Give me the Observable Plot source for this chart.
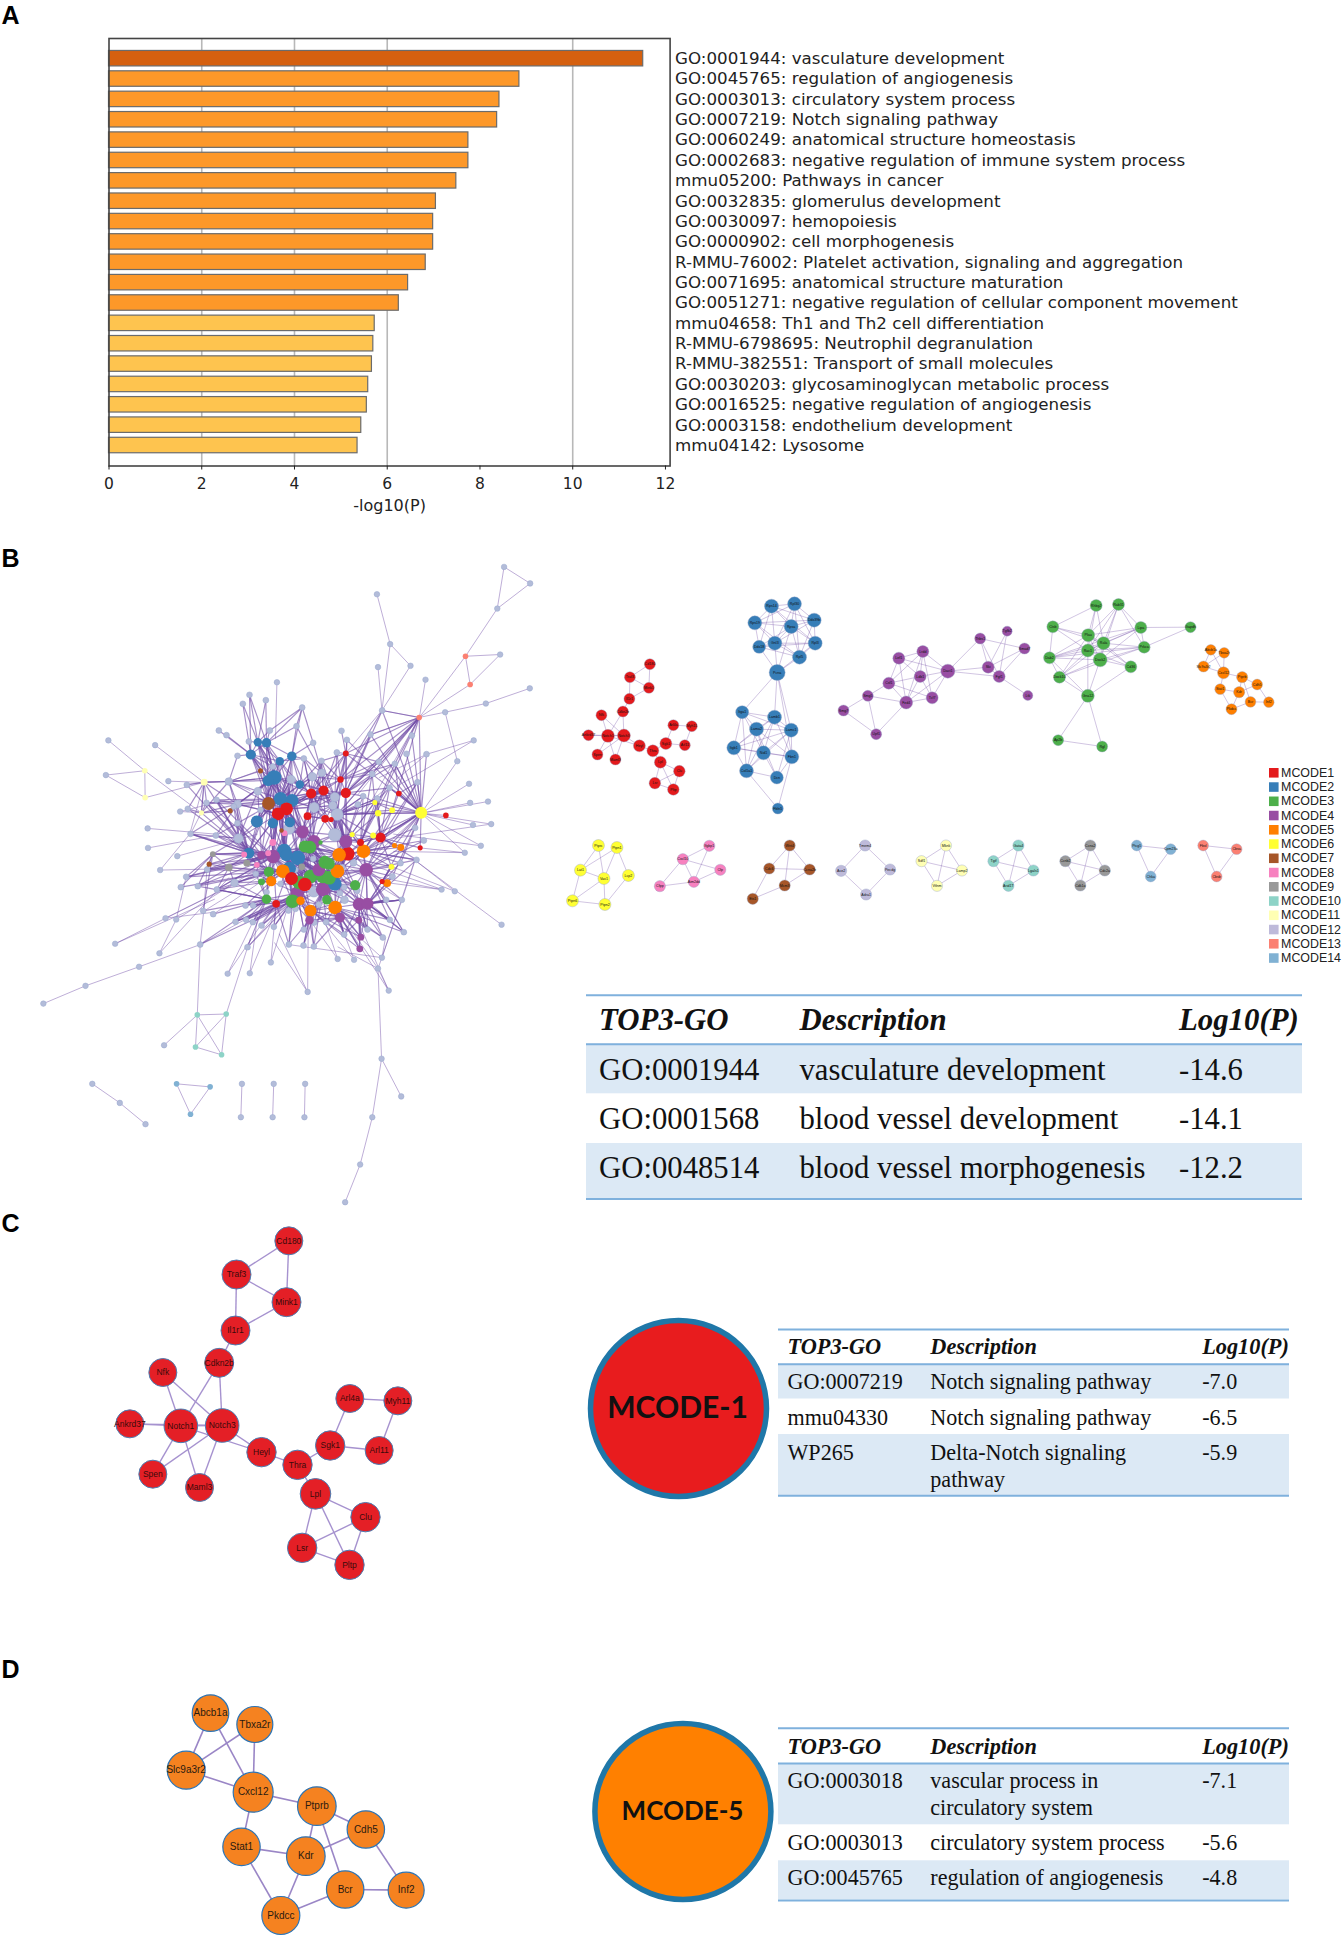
<!DOCTYPE html>
<html>
<head>
<meta charset="utf-8">
<script src="https://cdn.jsdelivr.net/npm/d3@7"></script>
<script src="https://cdn.jsdelivr.net/npm/@observablehq/plot@0.6"></script>
<style>
html,body{margin:0;padding:0;background:#fff}
#page{position:relative;width:1343px;height:1937px;overflow:hidden}
#page svg{position:absolute;left:0;top:0;background:transparent}
</style>
</head>
<body>
<div id="page"></div>
<script>
/* ---------- Panel A ---------- */
const terms = ["GO:0001944: vasculature development","GO:0045765: regulation of angiogenesis","GO:0003013: circulatory system process","GO:0007219: Notch signaling pathway","GO:0060249: anatomical structure homeostasis","GO:0002683: negative regulation of immune system process","mmu05200: Pathways in cancer","GO:0032835: glomerulus development","GO:0030097: hemopoiesis","GO:0000902: cell morphogenesis","R-MMU-76002: Platelet activation, signaling and aggregation","GO:0071695: anatomical structure maturation","GO:0051271: negative regulation of cellular component movement","mmu04658: Th1 and Th2 cell differentiation","R-MMU-6798695: Neutrophil degranulation","R-MMU-382551: Transport of small molecules","GO:0030203: glycosaminoglycan metabolic process","GO:0016525: negative regulation of angiogenesis","GO:0003158: endothelium development","mmu04142: Lysosome"];
const logP = [11.52,8.85,8.42,8.37,7.75,7.75,7.49,7.05,6.99,6.99,6.83,6.45,6.25,5.73,5.70,5.67,5.59,5.56,5.44,5.36];
const barTier = [0,1,1,1,1,1,1,1,1,1,1,1,1,2,2,2,2,2,2,2];
const tierColors = ["#d5600f","#fd9829","#fec44f"];
const xTicks = [0,2,4,6,8,10,12];
const gridTicks = [2,4,6,10];

/* ---------- Panel B: modules ---------- */
const modules = [1,2,3,4,5,6,7,8,9,10,11,12,13,14];
const moduleColors = ["#e41a1c","#377eb8","#4daf4a","#984ea3","#ff7f00","#ffff33","#a65628","#f781bf","#999999","#8dd3c7","#ffffb3","#bebada","#fb8072","#80b1d3"];

/* whole-network nodes: [x, y, module, size] */
const coreTop = [
[232,155,2,3.3],[258,157,2,3.7],[211,192,2,4],[334,197,2,3.7],[298,212,2,3.3],[281,261,2,5.7],[263,270,2,4.3],[358,282,2,3.3],[300,325,2,5.3],[335,330,2,5],
[264,339,7,5],[240,241,7,2],[149,361,7,2],[392,309,1,4],[429,300,1,4],[496,307,1,4],[480,267,1,2.5],[496,189,1,2.3],[318,355,1,5],[293,370,1,5],
[381,377,1,3],[434,385,1,3],[452,387,1,2],[655,309,1,2.2],[583,336,6,2],[635,359,6,2.3],[593,368,6,2.5],[722,367,6,4.7],[71,275,11,2.7],[63,367,11,2],
[716,81,13,2.2],[145,273,12,3],[207,13,12,2.3],[187,40,12,2.3],[256,29,12,2.3],[365,51,12,2.3],[115,120,12,2.3],[138,134,12,2.3],[348,107,12,2.3],[268,120,12,2.3],
[205,153,12,2.3],[171,196,12,2.3],[398,157,12,2.3],[370,204,12,2.3],[469,186,12,2.3],[499,148,12,2.3],[483,121,12,2.3],[570,132,12,2.3],[605,60,12,2.3],[694,135,12,2.3],
[678,190,12,2.3],[738,191,12,2.3],[595,214,12,2.3],[643,220,12,2.3],[575,251,12,2.3],[711,275,12,2.3],[627,292,12,2.3],[423,211,12,2.3],[424,247,12,3],[396,259,12,3.3],
[332,267,12,3.3],[463,320,12,3.7],[401,351,12,4],[232,302,12,3],[457,345,12,3.3],[470,372,12,4.7],[548,317,12,2.3],[590,324,12,2.3],[532,342,12,2.3],[277,228,12,2.3],
[19,283,12,2.3],[22,355,12,2.3],[78,337,12,2.3],[108,328,12,2.3],[171,341,12,3],[160,348,12,2.3],[240,358,12,2.3]];
const coreBottom = [
[311,92,2,5.7],[318,104,2,4.7],[352,112,2,5.7],[326,144,2,5.3],[205,98,2,4.3],[463,190,2,5.3],[229,3,2,4.7],[277,8,2,4],[328,5,2,4],[366,34,4,5],
[400,64,4,5.3],[496,63,4,5],[278,108,4,5.3],[243,104,4,3.3],[415,148,4,5],[557,148,4,5.3],[428,206,4,5.7],[350,218,4,5.3],[536,251,4,5],[561,250,4,4.7],
[387,299,4,3.3],[478,291,4,4],[535,299,4,2.7],[541,350,4,2.7],[538,385,4,2.7],[373,78,3,4.7],[388,80,3,5],[420,66,3,1.7],[433,125,3,5],[445,130,3,4.7],
[265,154,3,4],[390,168,3,5.3],[427,168,3,5.3],[446,172,3,5.3],[356,186,3,5.3],[524,194,3,4],[243,184,3,2.7],[258,236,3,3.7],[336,242,3,5.3],[439,238,3,3.7],
[502,100,1,5.3],[333,174,1,5],[373,192,1,5.3],[600,51,1,4],[540,66,1,2.7],[719,82,1,2],[605,183,1,2],[287,250,1,3],[476,103,5,5.3],[549,92,5,5.3],
[471,152,5,5.3],[272,182,5,4],[307,152,5,5.3],[620,188,5,3],[360,241,5,3.3],[390,271,5,4.7],[464,261,5,5.3],[642,75,5,2],[661,81,5,2.7],[515,42,6,2],
[578,45,6,2.3],[633,139,6,2.3],[277,66,8,2.7],[312,38,8,2.3],[191,102,8,2.3],[263,98,8,2.3],[229,133,8,2.3],[303,30,7,1.7],[97,101,9,2.3],[145,141,9,3],
[199,128,9,2.7],[364,139,9,2.7],[86,131,7,2],[463,43,12,5],[326,25,12,4.3],[174,54,12,3.7],[106,45,12,2.3],[30,40,12,2.3],[171,8,12,2.3],[519,127,12,2.7],
[660,128,12,2.3],[636,168,12,2.3],[704,22,12,2.3],[730,60,12,2.3],[708,118,12,2.3],[400,213,12,4.3],[478,218,12,2.3],[492,238,12,3],[162,187,12,3],[226,160,12,2.3],
[80,147,12,2.3],[17,169,12,2.3],[52,197,12,2.3],[109,207,12,2.3],[1,200,12,2.3],[68,271,12,2.3],[98,281,12,2.3],[165,304,12,2.3],[197,298,12,2.3],[217,305,12,2.3],
[243,315,12,2.3],[280,319,12,2.3],[370,327,12,2.3],[401,306,12,2.3],[437,305,12,2.3],[491,342,12,2.3],[369,375,12,2.3],[400,378,12,2.3],[59,372,12,2.3],[201,380,12,2.3],
[325,372,12,2.3],[607,351,12,2.3],[670,335,12,2.3],[628,298,12,2.3],[664,238,12,2.3],[617,238,12,2.3],[561,327,12,2.3],[459,250,12,2.3],[415,252,12,2.3],[530,210,12,2.3],
[258,215,12,2.3],[195,255,12,2.3],[218,255,12,2.3],[324,270,12,2.3],[345,265,12,2.3],[491,200,12,2.3],[398,115,12,2.3],[345,148,12,2.3],[485,140,12,2.3],[300,190,12,2.3]];
const outerNodes = [
[1410,84,12],[1483,122,12],[1391,180,12],[1302,290,13],[1399,286,12],[1315,355,13],[1054,147,12],[1091,262,12],[1148,312,12],[1057,315,12],[1190,344,12],[1482,364,12],[1359,399,12],[1245,419,12],[1279,532,12],[1325,484,12],[1312,584,12],[1315,628,12],[1365,625,12],[1374,677,12],[1323,679,12],[1345,727,12],[1300,743,12],[1247,657,1],[1235,828,12],[1272,832,12],[1403,909,12],[1068,985,12],[1057,1010,12],[1087,1061,12],[1067,1218,12],[1122,1305,12],[1041,1353,12],[1007,1462,12],[965,1549,12],[860,1064,12],[990,990,12],[944,988,12],[757,996,12],[698,1021,12],[636,1022,12],[321,953,12],[445,975,12],[492,897,12],[462,894,12],[388,1006,12],[238,1050,12],[120,1091,12],[551,1117,10],[632,1115,10],[546,1191,10],[619,1209,10],[458,1187,12],[257,1276,12],[334,1320,12],[406,1369,12],[493,1276,14],[587,1283,14],[532,1346,14],[676,1276,12],[673,1353,12],[765,1276,12],[762,1353,12],[853,1276,12],[851,1353,12],[302,484,12],[433,495,12],[295,564,12],[404,554,11],[405,616,11],[470,578,12],[503,648,12],[412,687,12],[413,732,12],[495,751,12],[447,783,12],[774,350,12]];

/* links of the dense core: first id is a hub, the rest its neighbours */
const coreLinks = [
"t5 t0 t1 t2 t3 t4 t6 t7 t8 t9 t10 t11 t60 t63 b6 b7 b8","t8 t0 t1 t2 t3 t4 t9 t10 t18 t19 t69 t60 t7 b0 b1 b6","t9 t0 t1 t2 t3 t4 t10 t18 t19 t7 t13 b2 b9","t10 t0 t1 t2 t4 t11 t19 t63 t31 b6 b12",
"t18 t3 t7 t13 t14 t15 t59 t60 t62 b0 b9 b10","t19 t2 t3 t63 t74 b4 b12 b30","t13 t14 t15 t16 t17 t20 t58 t61 t62 t64 b9 b10 b11","t14 t15 t16 t17 t21 t58 t59 t61 t64 t65 b11 b40","t15 t16 t17 t45 t52 t54 t61 t66 b11 b40 b48",
"t62 t3 t43 t57 t58 t61 t64 t65 t21 b10 b73","t65 t16 t17 t24 t26 t66 t67 b11 b73 b40 b49","t27 t24 t25 t26 t23 t30 t49 t50 t51 t52 t53 t55 t56 t67 t54 b43 b60",
"b0 b1 b2 b3 b4 b6 b7 b8 b9 b12 b13 b30 b41 b42 b34 b71 b25 b26 t18 t19 t8 b69 b70 b68 b90 b91","b2 b3 b9 b10 b25 b26 b28 b29 b31 b32 b34 b41 b42 b126 b14 b127","b3 b12 b30 b31 b34 b38 b41 b42 b47 b51 b52 b54 b129 b36 b88",
"b12 b4 b13 b30 b36 b41 b47 b51 b62 b63 b65 b66 b70 b74 b92 b93","b10 b11 b14 b25 b26 b28 b29 b32 b40 b48 b50 b73 b74","b11 b28 b29 b33 b40 b43 b44 b48 b49 b59 b60 b50","b14 b28 b29 b31 b32 b33 b16 b17 b34 b42 b5 b50 b85 b35",
"b16 b5 b17 b20 b21 b31 b32 b33 b34 b38 b39 b42 b54 b55 b56 b85 b86","b17 b37 b38 b41 b42 b47 b51 b54 b55 b85 b20 b102 b118 b123","b31 b32 b33 b34 b41 b42 b5 b28 b29 b54 b85","b33 b5 b28 b29 b40 b48 b49 b50 b35 b15 b86 b125",
"b5 b35 b15 b18 b19 b50 b56 b40 b49 b87 b119 b125 b39","b15 b18 b19 b35 b49 b43 b44 b53 b61 b58 b81 b115 b116 b119","b18 b19 b22 b23 b24 b56 b35 b87 b111 b114 b116","b19 b22 b23 b111 b112 b113 b114 b115 b61 b53",
"b56 b21 b22 b55 b39 b35 b86 b87 b105 b116 b103 b104","b55 b20 b21 b38 b39 b54 b102 b103 b117 b118 b106 b107","b38 b37 b47 b54 b20 b100 b101 b121 b122 b123 b124 b97 b98","b37 b47 b36 b30 b88 b93 b97 b98 b99 b121 b122 b120",
"b30 b36 b41 b51 b52 b66 b70 b69 b89 b64 b13 b120","b4 b13 b64 b65 b66 b69 b70 b68 b72 b75 b76 b77 b78 b90 t74 t75","b13 b65 b66 b62 b89 b70 t63 b78 b75","b9 b25 b26 b27 b63 b67 b74 t76 t60 b73","b73 b27 b44 b59 b11 b79 t61 t64 t65",
"b40 b49 b44 b59 b60 b48 b50 b79 b128","b49 b43 b44 b60 b61 b57 b58 b79 b80 b84","b48 b50 b28 b29 b126 b128","b43 b60 b57 b58 b44 b45 b84 t55 t56 t67","b20 b21 b102 b103 b106 b107 b110","b21 b103 b104 b105 b107","b22 b23 b24 b105 b111 b116",
"b47 b100 b101 b110 b97 b98 b99","b54 b123 b124 b20 b118","b42 b34 b41 b54 b85 b129 b127","b51 b36 b88 b89 b93 b120 b121","b75 b76 b77 b78 b68 t72 t73 t74 t75 t63","b69 b68 b72 b90 b91 b92 b93 b88","b68 b90 b91 b92 b94 b95","b46 b53 b58 b61 b81 b80",
"t74 t31 t72 t73 t28 t29 t12 b76 b77","t31 t28 t5 t6 t63 t41 t29 t11","t2 t0 t1 t40 t41 t4 t33 t32 t37 t36 t69 t11","t0 t32 t33 t34 t1 t4 t39 t40 t69","t1 t32 t34 t35 t38 t39 t3 t4 t5","t3 t35 t38 t42 t43 t7 t69","t4 t69 t7 t43 t60","t7 t43 t59 t57 t60 t13",
"t16 t17 t57 t44 t58 t59 t61","t17 t44 t45 t46 t52 t54 t30 t57","t30 t47 t48 t53 t52 t54 t25","t24 t25 t66 t67 t54 t56","t23 t56 t53 t25 t55 t27","t58 t57 t43 t42 t38","t20 t62 t64 t22 t21 b9 b10","t35 t38 t42 t39","t28 t70 t71 t72 t29 t31","t29 t71 t72 t12",
"b0 b14 b16 b17 b28 b31 b32 b33 b5 b85 b38 b55 b50 b48","b1 b9 b10 b12 b14 b16 b17 b25 b26 b31 b32 b34 b38 b41 b42 b54","b41 b14 b16 b17 b25 b26 b28 b31 b32 b33 b38 b54 b85 b129 b71 b127","b42 b14 b16 b25 b26 b28 b29 b31 b32 b33 b5 b38 b55 b56","b34 b9 b10 b25 b26 b28 b29 b32 b33 b38 b55 b85",
"b25 b26 b28 b29 b31 b32 b33 b40 b48 b14 b50 b5","b26 b28 b29 b31 b32 b33 b40 b48 b50 b16","b28 b29 b31 b32 b33 b40 b48 b50 b5 b15 b49","b32 b33 b40 b48 b50 b5 b15 b18 b56 b39","b50 b5 b35 b15 b49 b40 b56 b39 b86 b18","b48 b40 b49 b15 b35 b61 b5 b18","b12 b31 b34 b38 b42 b14 b28",
"b52 b12 b30 b51 b66 b70 b69 b71 b127 b3 b41 b36","t18 b0 b1 b2 b12 b25 b26 b9 b71 b74 b63 t60 t64","t19 b0 b1 b12 b13 b4 b65 b62 b63 t76 t74 b75","t8 t13 t14 t59 t60 t62 t63 b9 b0 b62","t9 t14 t15 t59 t61 t62 b9 b10 b25","t5 t13 t14 t18 t19 t31 t74 t75 b4 b6 b12","t6 t0 t1 t2 t4 t8 t9 t10 t19 t63 t74","t10 t8 t9 t18 t19 b4 b6 b7 b8 b13 b12 t74 t75 t76",
"t13 t15 t18 t19 t57 t43 t59 t60 b9 b40 b26","t14 t18 t43 t44 t57 t59 t60 t62 b9 b26 b25","t61 t16 t17 t44 t57 t58 t64 t65 b11 b40 b73","t64 t65 t58 b73 b11 b10 b9 b48 b40","t65 t27 t54 t24 t25 t26 t66 t67 t68 b59 b60 b44","b11 t66 t67 t68 t26 t24 b79 b128 b15","b43 t26 t24 t25 t27 t67 b59 b44 b61","b49 t27 b60 b59 b83 b84 b82 t25","b15 t27 t55 b84 b83 b112 b113 b114",
"b19 b84 b112 b114 b115 b113 b61 b81","b18 b113 b115 b114 b116 b105 b22","b16 b103 b104 b105 b117 b86 b87 b118 b102 b107 b106 b23 b24","b17 b110 b101 b100 b124 b123 b97 b98 b99 b102 b103","b38 b99 b109 b110 b108","b37 b108 b95 b96 b92 b93 b89 b109","b30 b90 b91 b92 b93 b94 b88 b75","b12 b68 b72 b76 b77 b90 b93 t72 t73","b4 t31 t28 t29 t70 t71 t72 t73 t76 b77","t8 t72 t73 t74 b76 b75","b56 b111 b112 b113 b105 b23 b24","b55 b22 b23 b24 b105","t27 b43 b57 b58 b45 b80 b81 t53 t48 t47 t45","t16 t30 t52 t53 t54 t47 t48","t15 t30 t47 t48 t52 t53 t56","b44 t30 t53 t54 t56 t66 t67"];

/* outer links of the whole network: [x1, y1, x2, y2] */
const outerLinks = [
[1410,84,1483,122],[1410,84,1391,180],[1483,122,1391,180],[1391,180,1302,290],[1302,290,1173,431],[1302,290,1399,286],[1302,290,1315,355],[1399,286,1315,355],[1315,355,1173,431],
[1054,147,1091,262],[1091,262,1148,312],[1091,262,1068,415],[1057,315,1068,415],[1148,312,1068,415],[1068,415,1173,431],[1068,415,960,520],[1190,344,1173,431],[1173,431,1037,471],[1173,431,1245,419],[1245,419,1359,399],[1359,399,1482,364],[1245,419,1279,532],[1279,532,1178,652],[1173,431,980,590],[1173,431,1000,610],[1173,431,1020,650],[1173,431,1060,535],[1325,484,1193,516],[1193,516,1060,570],
[1312,584,1178,652],[1315,628,1178,652],[1365,625,1178,652],[1374,677,1178,652],[1323,679,1178,652],[1345,727,1178,652],[1300,743,1178,652],[1247,657,1178,652],[1300,743,1175,732],[1178,652,1116,607],[1178,652,1150,660],[1178,652,1060,740],[1178,652,1020,740],
[1235,828,1080,812],[1272,832,1160,760],[1403,909,1160,760],[1124,852,1161,760],[1129,926,1020,780],[1124,852,1068,985],[1068,985,1057,1010],[1057,1010,1087,1061],[1057,1010,1067,1218],[1067,1218,1122,1305],[1067,1218,1041,1353],[1041,1353,1007,1462],[1007,1462,965,1549],[1087,1061,960,900],[1057,1010,944,960],[1057,1010,990,930],[1068,985,808,955],[1068,985,1078,939],[1068,985,1160,760],
[860,1064,767,950],[860,1064,862,880],[990,990,940,880],[944,988,900,880],[757,996,770,880],[698,1021,720,890],[636,1022,720,880],[559,955,551,1117],[569,878,559,955],[569,878,578,783],[632,1115,700,940],[551,1117,632,1115],[551,1117,546,1191],[551,1117,619,1209],[546,1191,632,1115],[632,1115,619,1209],[546,1191,619,1209],[551,1117,458,1187],
[321,953,600,850],[445,975,492,897],[492,897,520,798],[492,897,700,790],[462,894,600,880],[120,1091,238,1050],[238,1050,388,1006],[388,1006,559,955],[559,955,700,890],
[257,1276,334,1320],[334,1320,406,1369],[493,1276,587,1283],[493,1276,532,1346],[587,1283,532,1346],[676,1276,673,1353],[765,1276,762,1353],[853,1276,851,1353],
[302,484,404,554],[404,554,295,564],[404,554,405,616],[295,564,405,616],[433,495,570,581],[404,554,562,651],[405,616,570,581],[570,581,562,651],[570,581,640,579],[570,581,470,578],[570,581,521,586],[640,579,720,555],[640,579,700,600],[412,687,600,700],[413,732,605,703],[495,751,720,700],[447,783,530,700],[447,783,640,780],[570,581,530,700],[562,651,532,700],[503,648,640,620],[503,648,562,651],[774,350,770,480],[1237,828,1000,760],
[321,953,640,820],[445,975,640,800],[462,894,720,790],[569,878,760,780],[596,885,800,770],[692,961,830,830],[636,1022,770,860],[698,1021,770,880],[757,996,800,880],[860,1064,780,930],[990,990,880,880],[944,988,850,880],[1068,985,900,860],[1087,1061,990,880],[1129,926,950,800],[1124,852,980,780],[1272,832,1080,770],[1235,828,1000,790],[1345,727,1100,700],[1300,743,1100,740],[1374,677,1100,710],[1193,516,1000,650],[1325,484,1110,590],[1173,431,960,640],[1037,471,960,600]];

/* module sub-networks: [name, x, y, size] and links as index pairs */
const redNodes = [["Cd180",179,251,5.5],["Traf3",139,290,5.5],["Mink1",177,322,5.5],["Il1r1",138,355,5.5],["Cdkn2b",125,393,5.5],["Nfk",82,404,5.5],["Ankrd37",56,464,5.5],["Notch1",95,466,6.5],["Notch3",127,465,6.5],["Spen",74,522,5.5],["Maml3",110,537,5.5],["Heyl",158,496,6],["Thra",185,511,6],["Sgk1",211,489,6],["Arl4a",226,434,5.5],["Myh11",263,437,5.5],["Arl11",249,494,5.5],["Lpl",200,545,6],["Clu",238,572,5.8],["Lsr",189,608,5.8],["Pltp",226,627,5.8]];
const redLinks = "0-1 0-2 1-2 1-3 2-3 3-4 4-7 4-8 5-7 5-8 6-7 6-8 7-8 7-9 8-9 7-10 8-10 7-11 8-11 11-12 12-13 12-17 13-14 14-15 15-16 13-16 17-18 17-19 17-20 18-19 18-20 19-20";
const blueNodes = [["Rps14",153,47,7],["Rpl30",222,40,7],["Rps19",103,97,7],["Ddx39b",281,89,7],["Rpsa",212,108,7],["Ddx18",116,169,6.5],["Gnl3",163,158,7],["Rpl3",284,158,7],["Rpl5",237,200,7],["Pcna",170,246,8],["Itga1",65,365,6.5],["Lamb1",162,380,7],["Lama2",108,416,7],["Lamc1",212,419,7],["Itgb1",40,472,7],["Nid1",129,487,7],["Fbn1",214,499,7],["Col1a1",78,541,7],["Dcn",169,561,6.5],["Fbln5",172,654,5.5]];
const blueLinks = "0-1 0-2 0-3 0-4 0-5 0-6 0-7 1-2 1-3 1-4 1-6 1-7 1-8 2-3 2-4 2-5 2-6 2-8 3-4 3-6 3-7 3-8 4-5 4-6 4-7 4-8 5-6 5-7 5-8 5-9 6-7 6-8 6-9 7-8 7-9 8-9 4-9 9-10 9-11 9-13 9-16 10-11 10-12 10-13 10-14 10-15 10-17 11-12 11-13 11-14 11-15 11-16 11-17 12-13 12-14 12-15 12-16 12-17 12-18 13-14 13-15 13-16 13-17 13-18 14-15 14-16 14-17 15-16 15-17 15-18 16-18 16-19 17-18 17-19";
const purpleNodes = [["Lrdd",277,183,6],["Lef1",205,203,6],["Ldb1",269,258,6],["Dact1",352,242,7],["Csf1",175,278,6],["Tcf7",305,322,6],["Fzd4",227,336,6.5],["Smg5",112,316,5.5],["Smg7",39,360,5.5],["Upf1",137,431,5.5],["Thbs1",449,144,5.5],["Tgfb2",530,122,5],["Smad7",582,174,5.5],["Ski",473,230,6],["Fgf1",506,258,6],["Ltk",592,315,5]];
const purpleLinks = "0-1 0-2 0-3 0-4 0-5 0-6 1-2 1-3 1-4 1-6 2-3 2-4 2-5 2-6 3-5 3-6 4-5 4-6 4-7 5-6 6-7 7-8 7-9 8-9 6-9 3-10 3-13 3-14 10-13 10-14 10-12 11-13 11-14 12-13 12-14 13-14 14-15";
const greenNodes = [["Rhbg2",197,45,6],["Rab31",264,42,6],["Ctsb",67,109,6],["Lipa",331,111,6],["Gapdh",480,110,5.5],["Plau",173,134,6.5],["Rala",219,158,6.5],["Prkca",341,170,6],["Rac1",172,180,6.5],["Dab2",57,202,6],["Dock2",209,208,7],["Cd36",301,229,6],["Dock10",87,260,6],["Gna12",172,316,6.5],["Ap2b",83,449,5.5],["Rgl",215,468,5.5]];
const greenLinks = "0-2 0-5 0-6 0-8 1-5 1-6 1-8 1-3 1-7 1-10 2-5 2-6 2-8 2-9 3-4 3-5 3-6 3-8 3-9 3-10 3-7 4-7 5-6 5-8 5-9 5-10 5-12 5-11 6-8 6-9 6-10 6-12 6-7 6-11 7-8 7-10 7-9 7-12 8-10 8-9 8-12 8-13 9-10 9-12 9-13 10-12 10-11 10-13 11-13 12-13 13-14 13-15 14-15 8-11";
const orangeNodes = [["Abcb1a",541,178,5.3],["Tbxa2r",581,187,5.3],["Slc9a3r2",519,228,5.5],["Cxcl12",579,247,6],["Ptprb",635,260,5.6],["Cdh5",680,282,5.4],["Stat1",569,296,5.4],["Kdr",626,305,5.6],["Bcr",660,334,5.4],["Inf2",715,335,5.3],["Pkdcc",603,356,5.5]];
const orangeLinks = "0-2 0-3 1-2 1-3 2-3 3-4 3-6 4-5 4-7 4-8 5-7 5-9 6-7 6-10 7-10 8-9 8-10";
const smallModules = [
 {module:6, r:6, names:["Ptprc","Ptpn1","Lat1","Vav1","Lcp2","Ptpn6","Ptpn2"], at:[[76,795],[113,801],[40,869],[87,894],[136,885],[24,961],[89,972]], links:"0-2 0-3 1-2 1-3 1-4 2-3 2-5 3-5 3-6 4-6 5-6"},
 {module:8, r:5.6, names:["Ifgbp1","Cxcl10","Cfp","Aim2dd","Cfpp"], at:[[298,796],[245,836],[320,868],[267,904],[199,917]], links:"0-1 0-3 1-2 1-3 1-4 3-2 3-4"},
 {module:7, r:5.6, names:["Wnt4","Cdc6","Ccna2b","Mcm3","Ets1"], at:[[459,795],[418,864],[499,867],[449,915],[385,955]], links:"0-1 0-2 0-3 1-2 2-3 1-4 3-4"},
 {module:12, r:5.6, names:["Tmem4","Ace2","Pecdg","Adra1"], at:[[610,795],[562,871],[660,867],[612,942]], links:"0-1 0-2 1-3 2-3"},
 {module:11, r:5.6, names:["Mknk","Sdf1","Lamp2","Vtlnm"], at:[[772,795],[723,842],[804,870],[754,916]], links:"0-1 0-2 0-3 1-2 1-3 2-3"},
 {module:10, r:5.6, names:["Gata4","Tgif","Lgals1","Arid1T"], at:[[917,795],[867,842],[947,870],[897,916]], links:"0-1 0-2 0-3 1-2 1-3 2-3"},
 {module:9, r:5.6, names:["Ccna2","Ccnb2","Cdc2a","Cdk1a"], at:[[1061,795],[1011,842],[1090,870],[1041,915]], links:"0-1 0-2 0-3 1-2 1-3 2-3"},
 {module:14, r:5.4, names:["Ptcg5","Cpm23a","Chka"], at:[[1154,795],[1222,806],[1182,888]], links:"0-1 0-2 1-2"},
 {module:13, r:5.4, names:["Fbxl","Cbsa","Cbsb"], at:[[1287,795],[1354,806],[1314,888]], links:"0-1 0-2 1-2"}];

/* Panel C and D networks */
const panelCNodes = [["Cd180",565,91,14],["Traf3",408,192,14.5],["Mink1",558,275,14.5],["Il1r1",405,360,14.5],["Cdkn2b",356,457,14.5],["Nfk",187,486,14],["Ankrd37",88,640,14],["Notch1",241,646,16.8],["Notch3",365,645,16.8],["Spen",157,791,14],["Maml3",297,831,14],["Heyl",483,725,14.7],["Thra",591,763,14.7],["Sgk1",689,705,14.7],["Arl4a",748,564,14],["Myh11",892,571,14],["Arl11",836,720,14],["Lpl",645,850,15.3],["Clu",795,920,14.7],["Lsr",605,1012,14.7],["Pltp",747,1063,14.7]];
const panelDNodes = [["Abcb1a",210,128,18.3],["Tbxa2r",343,162,18],["Slc9a3r2",137,299,19],["Cxcl12",338,365,20],["Ptprb",529,407,19.3],["Cdh5",676,477,18.7],["Stat1",303,529,18.7],["Kdr",496,557,19.3],["Bcr",614,657,18.7],["Inf2",797,659,18],["Pkdcc",421,735,19]];

/* Tables */
const tableHead = ["TOP3-GO","Description","Log10(P)"];
const tableB = [["GO:0001944","vasculature development","-14.6"],["GO:0001568","blood vessel development","-14.1"],["GO:0048514","blood vessel morphogenesis","-12.2"]];
const tableC = [["GO:0007219","Notch signaling pathway","-7.0"],["mmu04330","Notch signaling pathway","-6.5"],["WP265","Delta-Notch signaling","-5.9"],["","pathway",""]];
const tableD = [["GO:0003018","vascular process in","-7.1"],["","circulatory system",""],["GO:0003013","circulatory system process","-5.6"],["GO:0045765","regulation of angiogenesis","-4.8"]];
const badges = [{name:"MCODE-1",fill:"#e81c1e"},{name:"MCODE-5",fill:"#ff8000"}];
const panelLetters = ["A","B","C","D"];

/* ---------- layout: where each source region sits on the page ---------- */
const mapWhole = d => [d[0]/2.8, 530 + d[1]/2.306];
const mapCoreTop = d => [180 + d[0]/3, 690 + d[1]/3];
const mapCoreBottom = d => [180 + d[0]/3, 820 + d[1]/3];
const mapZ3 = (x,y) => [560 + x/2.0026, 580 + y/3];
const origin = (ox,oy) => (x,y) => [ox + x/3, oy + y/3];

function net(list, linkText, map, extra){
  const pts = list.map(([name,x,y,r]) => { const p = map(x,y); return {name, x:p[0], y:p[1], r, ...extra}; });
  const links = linkText.split(" ").map(s => { const [a,b] = s.split("-").map(Number);
    return {x1:pts[a].x,y1:pts[a].y,x2:pts[b].x,y2:pts[b].y}; });
  return {pts, links};
}

/* whole network */
const coreIdx = {};
const wholeNodes = [];
coreTop.forEach((d,i)=>{const p=mapCoreTop(d); const n={x:p[0],y:p[1],module:d[2],r:d[3]*1.28}; coreIdx["t"+i]=n; wholeNodes.push(n);});
coreBottom.forEach((d,i)=>{const p=mapCoreBottom(d); const n={x:p[0],y:p[1],module:d[2],r:d[3]*1.28}; coreIdx["b"+i]=n; wholeNodes.push(n);});
outerNodes.forEach(d=>{const p=mapWhole(d); wholeNodes.push({x:p[0],y:p[1],module:d[2],r:2.8});});
const hubLinks = [], wholeLinks = [];
coreLinks.forEach(s=>{const ids=s.split(" "); const h=coreIdx[ids[0]];
  ids.slice(1).forEach(id=>{const o=coreIdx[id]; hubLinks.push({x1:h.x,y1:h.y,x2:o.x,y2:o.y});});});
outerLinks.forEach(l=>{const a=mapWhole([l[0],l[1]]),b=mapWhole([l[2],l[3]]); wholeLinks.push({x1:a[0],y1:a[1],x2:b[0],y2:b[1]});});

/* module sub-networks */
const subs = [
 net(redNodes,redLinks,mapZ3,{module:1}),
 net(blueNodes,blueLinks,origin(720,590),{module:2}),
 net(greenNodes,greenLinks,origin(1030,590),{module:3}),
 net(purpleNodes,purpleLinks,origin(830,590),{module:4}),
 net(orangeNodes,orangeLinks,origin(1030,590),{module:5}),
 ...smallModules.map(m=>net(m.names.map((n,i)=>[n,m.at[i][0],m.at[i][1],m.r]),m.links,mapZ3,{module:m.module}))
];
const subPts = subs.flatMap(s=>s.pts), subLinks = subs.flatMap(s=>s.links);

const netC = net(panelCNodes,redLinks,origin(100,1210),{});
const netD = net(panelDNodes,orangeLinks,origin(140,1670),{});

const legendRows = modules.map((m,i)=>({module:m,label:"MCODE"+m,y:772.3+i*14.25}));

function tableMarks(head, rows, o){
  const cols = o.cols;
  const textRows = rows.flatMap((r,i)=>r.map((t,c)=>({t,x:cols[c],y:o.base[i]}))).filter(d=>d.t);
  const headRows = head.map((t,c)=>({t,x:cols[c],y:o.headBase}));
  return [
    Plot.rect(o.bands,{x1:()=>o.left,x2:()=>o.right,y1:d=>d[0],y2:d=>d[1],fill:"#dce9f5"}),
    Plot.ruleY(o.rules,{x1:o.left,x2:o.right,y:d=>d,stroke:"#7fb1dd",strokeWidth:2}),
    Plot.text(headRows,{x:"x",y:"y",text:"t",textAnchor:"start",lineAnchor:"bottom",fontFamily:"Liberation Serif",fontStyle:"italic",fontWeight:"bold",fontSize:o.headSize,fill:"#111"}),
    Plot.text(textRows,{x:"x",y:"y",text:"t",textAnchor:"start",lineAnchor:"bottom",fontFamily:"Liberation Serif",fontSize:o.size,fill:"#111"})
  ];
}

const edgeColor = "#6f4ba6";
const pagePlot = Plot.plot({
  width:1343,height:1937,margin:0,
  x:{domain:[0,1343],range:[0,1343],axis:null},
  y:{domain:[0,1937],range:[0,1937],axis:null},
  r:{type:"identity"},
  color:{type:"ordinal",domain:modules,range:moduleColors},
  marks:[
    /* panel letters */
    Plot.text(panelLetters,{x:()=>10,y:(d,i)=>[15.5,558,1223,1669][i],text:d=>d,fontFamily:"Liberation Sans",fontWeight:"bold",fontSize:25,fill:"#000"}),
    /* B: whole network */
    Plot.link(wholeLinks,{x1:"x1",y1:"y1",x2:"x2",y2:"y2",stroke:edgeColor,strokeOpacity:0.45,strokeWidth:1}),
    Plot.link(hubLinks,{x1:"x1",y1:"y1",x2:"x2",y2:"y2",stroke:edgeColor,strokeOpacity:0.62,strokeWidth:1.15}),
    Plot.dot(wholeNodes.filter(d=>d.module===12),{x:"x",y:"y",r:"r",fill:"#b3bcd9",stroke:"#98a8cf",strokeWidth:0.5}),
    Plot.dot(wholeNodes.filter(d=>d.module!==12),{x:"x",y:"y",r:"r",fill:"module"}),
    /* B: modules */
    Plot.link(subLinks,{x1:"x1",y1:"y1",x2:"x2",y2:"y2",stroke:edgeColor,strokeOpacity:0.36,strokeWidth:0.9}),
    Plot.dot(subPts,{x:"x",y:"y",r:"r",fill:"module",stroke:"#9aa6c8",strokeWidth:0.4}),
    Plot.text(subPts,{x:"x",y:"y",text:"name",fontSize:3.6,fontFamily:"Liberation Sans",fill:"#111"}),
    /* B: legend */
    Plot.dot(legendRows,{x:()=>1273.3,y:"y",symbol:"square",r:5.4,fill:"module"}),
    Plot.text(legendRows,{x:()=>1280.6,y:"y",text:"label",textAnchor:"start",fontSize:12.4,fontFamily:"Liberation Sans",fill:"#222"}),
    /* C */
    Plot.link(netC.links,{x1:"x1",y1:"y1",x2:"x2",y2:"y2",stroke:"#a692cf",strokeWidth:1.4}),
    Plot.dot(netC.pts,{x:"x",y:"y",r:"r",fill:"#e41f26",stroke:"#4a7fb5",strokeWidth:1}),
    Plot.text(netC.pts,{x:"x",y:"y",text:"name",fontSize:8.5,fontFamily:"Liberation Sans",fill:"#3a0a0a"}),
    /* D */
    Plot.link(netD.links,{x1:"x1",y1:"y1",x2:"x2",y2:"y2",stroke:"#9a86c6",strokeWidth:1.6}),
    Plot.dot(netD.pts,{x:"x",y:"y",r:"r",fill:"#f58220",stroke:"#2c74b5",strokeWidth:1.2}),
    Plot.text(netD.pts,{x:"x",y:"y",text:"name",fontSize:10,fontFamily:"Liberation Sans",fill:"#2a1a10"}),
    /* tables */
    ...tableMarks(tableHead,tableB,{left:586,right:1302,cols:[598.6,799,1178.5],rules:[994.7,1043.7,1198.5],bands:[[1043.7,1093.3],[1143,1198]],headBase:1029,base:[1079,1128.7,1177.5],size:30.7,headSize:30.8}),
    ...tableMarks(tableHead,tableC,{left:778,right:1289,cols:[787,929.8,1201.7],rules:[1328.9,1363.7,1495.3],bands:[[1363.7,1398.5],[1434,1495.3]],headBase:1353.5,base:[1388.5,1424.5,1459.5,1486],size:22.1,headSize:22.3}),
    ...tableMarks(tableHead,tableD,{left:778,right:1289,cols:[787,929.8,1201.7],rules:[1727.8,1763,1900],bands:[[1763,1824.3],[1860.3,1899.4]],headBase:1753,base:[1787.5,1814,1849.5,1884],size:22.1,headSize:22.3}),
    /* badges */
    Plot.dot(badges,{x:(d,i)=>[678,682.4][i],y:(d,i)=>[1408,1811][i],r:()=>88,fill:"fill",stroke:"#1f77a8",strokeWidth:5.5}),
    Plot.text(badges,{x:(d,i)=>[677,682][i],y:(d,i)=>[1408,1811][i],text:"name",fontFamily:"Lato",fontWeight:"bold",fontSize:(d,i)=>[30,26][i],fill:"#111"})
  ]
});

/* Panel A, on its own scales */
const barPlot = Plot.plot({
  width:1343,height:530,
  marginLeft:108.5,marginRight:1343-669.6,marginTop:38,marginBottom:530-465.5,
  x:{domain:[0,12.1],axis:null},
  y:{domain:terms,range:[48,455.2],paddingInner:0.24,paddingOuter:0.12,round:false,axis:null},
  marks:[
    Plot.ruleX(gridTicks,{stroke:"#b8b8b8",strokeWidth:1.6}),
    Plot.barX(terms.map((t,i)=>({t,v:logP[i],tier:barTier[i]})),{x:"v",y:"t",fill:d=>tierColors[d.tier],stroke:"#6b6b6b",strokeWidth:1.2}),
    Plot.frame({stroke:"#444",strokeWidth:1.6}),
    Plot.axisX({anchor:"bottom",ticks:xTicks,tickFormat:d=>d,tickSize:4,tickPadding:8,fontSize:15.5,fontFamily:"DejaVu Sans",color:"#222",label:null}),
    Plot.text(["-log10(P)"],{x:()=>6.05,frameAnchor:"bottom",dy:45,text:d=>d,fontSize:16,fontFamily:"DejaVu Sans",fill:"#222"}),
    Plot.text(terms,{x:()=>12.1,y:d=>d,text:d=>d,dx:5,textAnchor:"start",fontSize:16.7,fontFamily:"DejaVu Sans",fill:"#222"})
  ]
});
const page = document.getElementById("page");
page.append(pagePlot, barPlot);
</script>
</body>
</html>
